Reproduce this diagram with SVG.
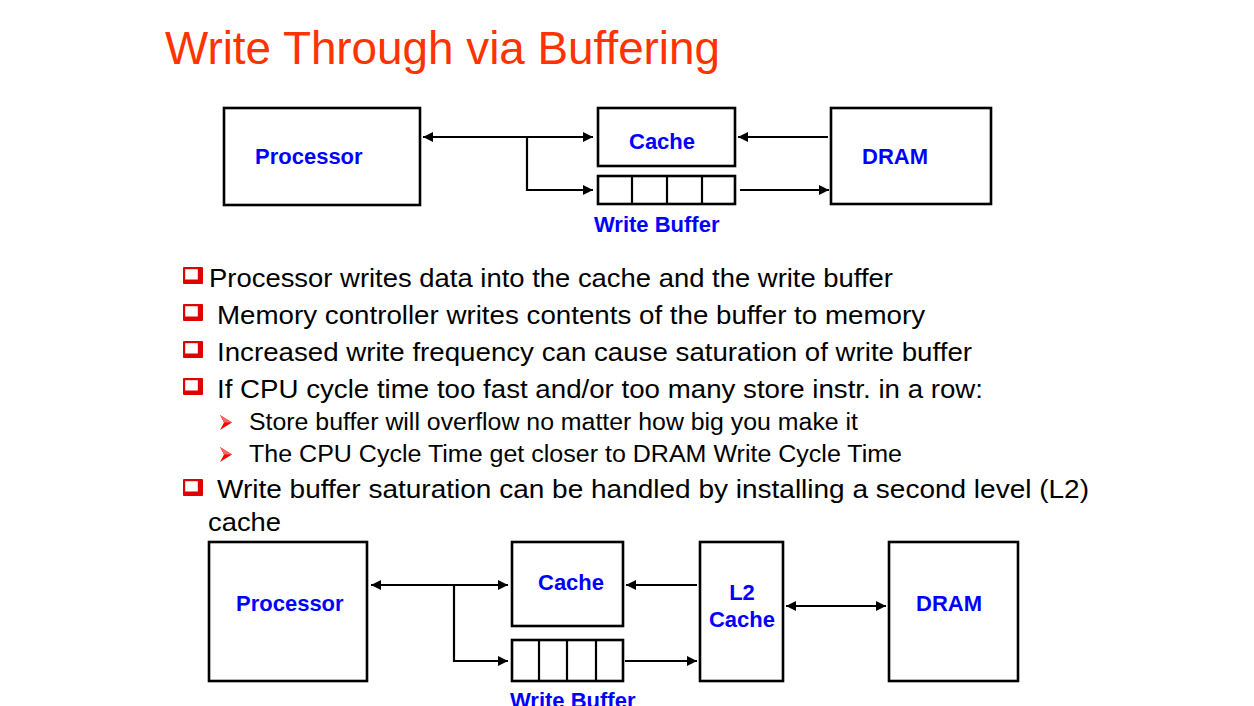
<svg xmlns="http://www.w3.org/2000/svg" width="1254" height="706" viewBox="0 0 1254 706">
<style>
.box{fill:#fff;stroke:#000;stroke-width:2.6}
.lbl{font-family:"Liberation Sans",Arial,sans-serif;font-weight:bold;font-size:22px;fill:#0000FF}
.body{font-family:"Liberation Sans",Arial,sans-serif;font-size:26px;fill:#000}
.sub{font-family:"Liberation Sans",Arial,sans-serif;font-size:23px;fill:#000}
.ln{stroke:#000;stroke-width:2.2;fill:none}
.title{font-family:"Liberation Sans",Arial,sans-serif;font-size:46px;fill:#FF3300}
</style>
<defs>
<marker id="ah" viewBox="0 0 10 10" refX="10" refY="5" markerWidth="10" markerHeight="10" markerUnits="userSpaceOnUse" orient="auto-start-reverse">
<path d="M0,0 L10,5 L0,10 z" fill="#000"/>
</marker>
<g id="sq">
<rect x="0" y="0" width="20" height="17" rx="1" fill="#E00000"/>
<rect x="2.2" y="2.2" width="12.6" height="10.3" fill="#fff"/>
</g>
<g id="arw">
<path d="M0,0 L12,7.5 L0,15 L4,7.5 z" fill="#FF0000"/>
<path d="M0,0 L12,7.5 L4,7.5 z" fill="#FF6666"/>
</g>
</defs>
<rect width="1254" height="706" fill="#fff"/>
<text class="title" x="165" y="64" textLength="555" lengthAdjust="spacingAndGlyphs">Write Through via Buffering</text>

<g id="connectors">
<line class="ln" x1="423" y1="137" x2="593" y2="137" marker-start="url(#ah)" marker-end="url(#ah)"/>
<polyline class="ln" points="527,137 527,190 593,190" marker-end="url(#ah)"/>
<line class="ln" x1="828" y1="137" x2="738" y2="137" marker-end="url(#ah)"/>
<line class="ln" x1="740" y1="190" x2="829" y2="190" marker-end="url(#ah)"/>
<line class="ln" x1="371" y1="585" x2="508" y2="585" marker-start="url(#ah)" marker-end="url(#ah)"/>
<polyline class="ln" points="454,585 454,661 508,661" marker-end="url(#ah)"/>
<line class="ln" x1="697" y1="585" x2="626" y2="585" marker-end="url(#ah)"/>
<line class="ln" x1="625" y1="661" x2="697" y2="661" marker-end="url(#ah)"/>
<line class="ln" x1="786" y1="606" x2="886" y2="606" marker-start="url(#ah)" marker-end="url(#ah)"/>
</g>

<g id="proc1"><rect class="box" x="224" y="108" width="196" height="97"/><text class="lbl" x="255" y="164">Processor</text></g>
<g id="cache1"><rect class="box" x="598" y="108" width="137" height="58"/><text class="lbl" x="629" y="149">Cache</text></g>
<g id="wb1"><rect class="box" x="598" y="176" width="137" height="28"/>
<line class="ln" x1="632" y1="176" x2="632" y2="204"/><line class="ln" x1="667" y1="176" x2="667" y2="204"/><line class="ln" x1="702" y1="176" x2="702" y2="204"/>
<text class="lbl" x="594" y="232">Write Buffer</text></g>
<g id="dram1"><rect class="box" x="831" y="108" width="160" height="96"/><text class="lbl" x="862" y="164">DRAM</text></g>

<g id="bullets">
<use href="#sq" x="183" y="267"/>
<text class="body" x="209" y="287" textLength="684" lengthAdjust="spacingAndGlyphs">Processor writes data into the cache and the write buffer</text>
<use href="#sq" x="183" y="304"/>
<text class="body" x="217" y="324" textLength="708" lengthAdjust="spacingAndGlyphs">Memory controller writes contents of the buffer to memory</text>
<use href="#sq" x="183" y="341"/>
<text class="body" x="217" y="361" textLength="755" lengthAdjust="spacingAndGlyphs">Increased write frequency can cause saturation of write buffer</text>
<use href="#sq" x="183" y="378"/>
<text class="body" x="217" y="398" textLength="766" lengthAdjust="spacingAndGlyphs">If CPU cycle time too fast and/or too many store instr. in a row:</text>
<use href="#arw" x="220" y="415"/>
<text class="sub" x="249" y="430" textLength="609" lengthAdjust="spacingAndGlyphs">Store buffer will overflow no matter how big you make it</text>
<use href="#arw" x="220" y="447"/>
<text class="sub" x="249" y="462" textLength="653" lengthAdjust="spacingAndGlyphs">The CPU Cycle Time get closer to DRAM Write Cycle Time</text>
<use href="#sq" x="183" y="479"/>
<text class="body" x="217" y="498" textLength="872" lengthAdjust="spacingAndGlyphs">Write buffer saturation can be handled by installing a second level (L2)</text>
<text class="body" x="208" y="531" textLength="73" lengthAdjust="spacingAndGlyphs">cache</text>
</g>

<g id="proc2"><rect class="box" x="209" y="542" width="158" height="139"/><text class="lbl" x="236" y="611">Processor</text></g>
<g id="cache2"><rect class="box" x="512" y="542" width="111" height="84"/><text class="lbl" x="538" y="590">Cache</text></g>
<g id="wb2"><rect class="box" x="512" y="640" width="111" height="41"/>
<line class="ln" x1="539" y1="640" x2="539" y2="681"/><line class="ln" x1="567" y1="640" x2="567" y2="681"/><line class="ln" x1="596" y1="640" x2="596" y2="681"/>
<text class="lbl" x="510" y="708">Write Buffer</text></g>
<g id="l2"><rect class="box" x="700" y="542" width="83" height="139"/><text class="lbl" x="742" y="600" text-anchor="middle">L2</text><text class="lbl" x="742" y="627" text-anchor="middle">Cache</text></g>
<g id="dram2"><rect class="box" x="889" y="542" width="129" height="139"/><text class="lbl" x="916" y="611">DRAM</text></g>
</svg>
